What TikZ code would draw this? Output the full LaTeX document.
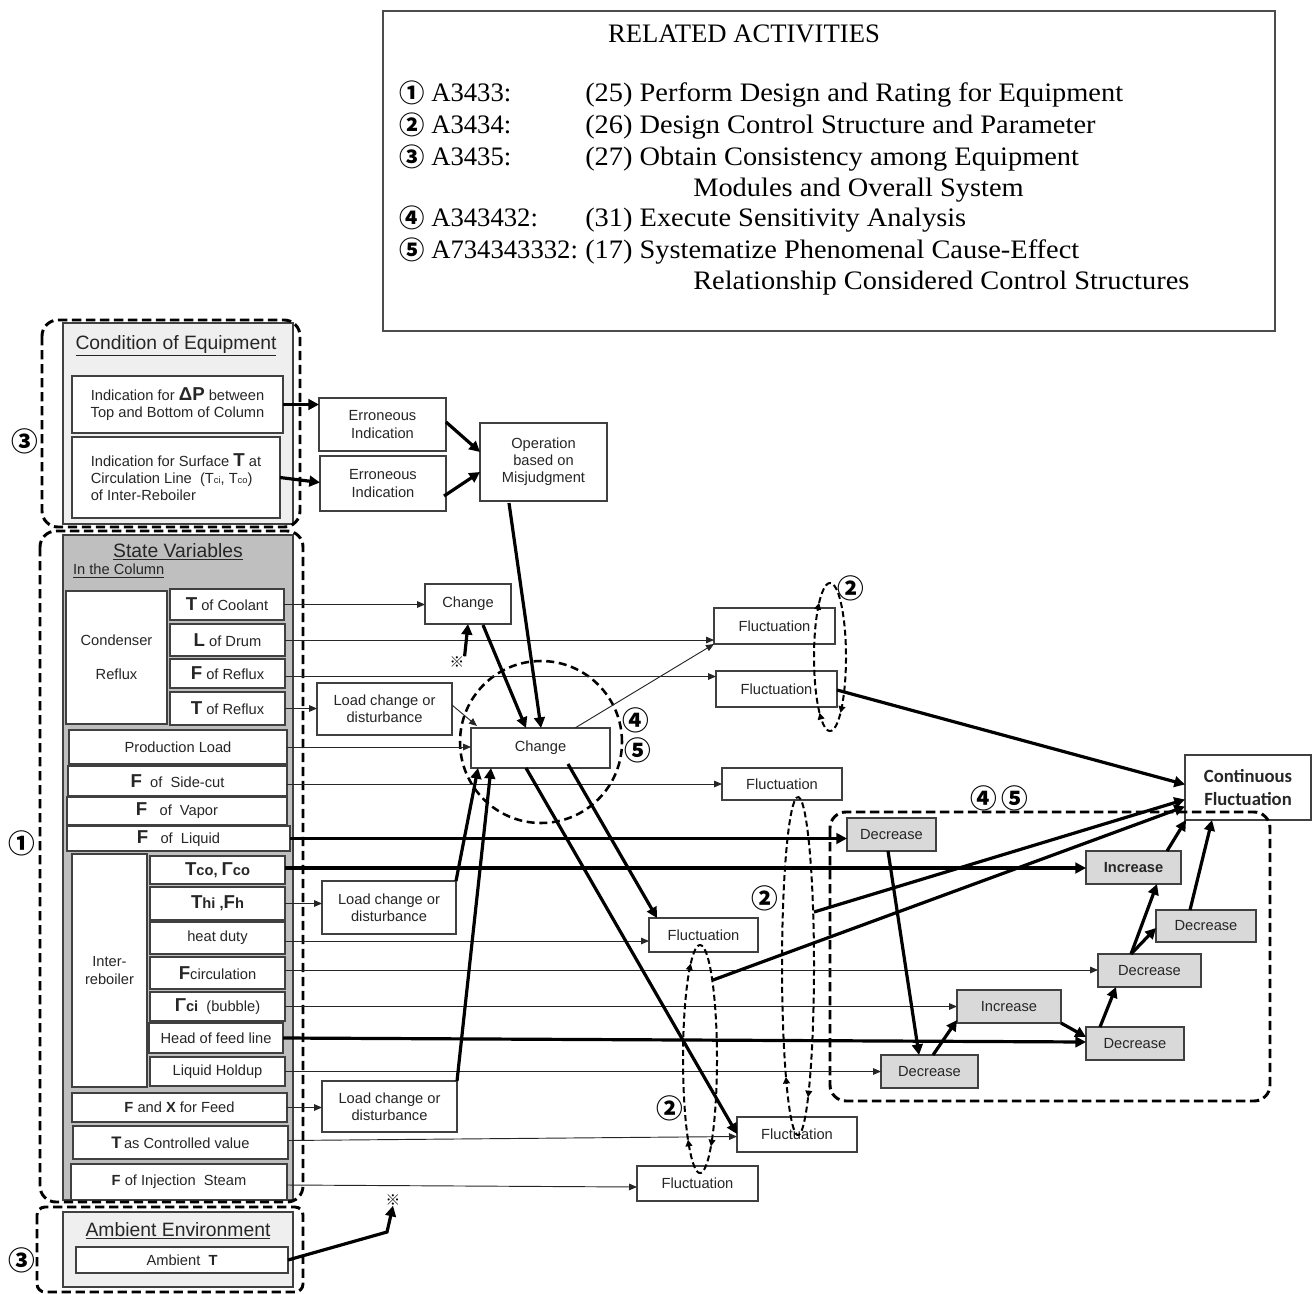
\documentclass[tikz,border=0pt]{standalone}
\usepackage{fontspec}
\setmainfont{Liberation Sans}
\newfontfamily\serifface{Liberation Serif}
\newfontfamily\serifwide[FakeStretch=1.065]{Liberation Serif}
\newfontfamily\cjkface{Noto Sans CJK JP}
\newfontfamily\calface{Carlito}
\usetikzlibrary{arrows.meta,calc}

\definecolor{panellight}{HTML}{EFEFEF}
\definecolor{panelgray}{HTML}{BFBFBF}
\definecolor{boxgray}{HTML}{D9D9D9}
\definecolor{edge}{HTML}{404040}

% rectangle node given by its corners (pixel grid)
\newcommand\rectnode[7]{%
  \node[#2, minimum width={(#5-#3)*0.75pt}, minimum height={(#6-#4)*0.75pt}]
    (#1) at ({(#3+#5)/2},{(#4+#6)/2}) {#7};}
% one dashed piece of an elliptic feedback loop
\newcommand\loopseg[6]{%
  \draw[loopline] plot[domain=#5:#6, samples=40, smooth, variable=\t]
    ({#1+#3*cos(\t)},{#2+#4*sin(\t)});}
\newcommand\Bg[1]{{\fontsize{14}{14}\selectfont\bfseries #1}}

\begin{document}
\begin{tikzpicture}[x=0.75pt,y=-0.75pt,
  txtbase/.style={font=\fontsize{11}{12.8}\selectfont, align=center, inner sep=1pt, outer sep=0pt, text=black!85},
  wbox/.style={txtbase, draw=edge, line width=0.9pt, fill=white},
  gbox/.style={txtbase, draw=edge, line width=0.9pt, fill=boxgray},
  headfont/.style={font=\fontsize{14.5}{16}\selectfont, inner sep=0pt, text=black!85},
  topfont/.style={font=\serifface\fontsize{20}{24}\selectfont, inner sep=0pt, anchor=base west},
  topdesc/.style={font=\serifwide\fontsize{20}{24}\selectfont, inner sep=0pt, anchor=base west},
  topnum/.style={font=\cjkface\bfseries\fontsize{19}{20}\selectfont, inner sep=0pt, anchor=west},
  numlabel/.style={font=\cjkface\bfseries\fontsize{20}{20}\selectfont, inner sep=0pt},
  refmark/.style={font=\cjkface\fontsize{11}{11}\selectfont, inner sep=0pt},
  grp/.style={draw=black, line width=2.2pt, dash pattern=on 7pt off 3.5pt, rounded corners=12pt},
  thn/.style={draw=black!85, line width=0.7pt, -{Triangle[length=6pt,width=5pt]}},
  thk/.style={draw=black, line width=2.4pt, -{Triangle[length=8pt,width=8pt]}},
  loopline/.style={draw=black, line width=1.5pt, dash pattern=on 4.5pt off 2.5pt, -{Triangle[length=5pt,width=5pt]}},
]
\useasboundingbox (0,0) rectangle (1312,1294);

% ---------- legend of related activities ----------
\rectnode{legend}{draw=black!70, line width=0.8pt}{383}{11}{1275}{331}{}
\node[font=\serifface\fontsize{20}{24}\selectfont, inner sep=0pt] (legtitle) at (744,34) {RELATED ACTIVITIES};
\node[topnum] (n1) at (399,93) {①};
\node[topfont] (k1) at (431,102) {A3433:};
\node[topdesc] (d1) at (585,102) {(25) Perform Design and Rating for Equipment};
\node[topnum] (n2) at (399,125) {②};
\node[topfont] (k2) at (431,134) {A3434:};
\node[topdesc] (d2) at (585,134) {(26) Design Control Structure and Parameter};
\node[topnum] (n3) at (399,157) {③};
\node[topfont] (k3) at (431,166) {A3435:};
\node[topdesc] (d3) at (585,166) {(27) Obtain Consistency among Equipment};
\node[topdesc] (d3b) at (693,197) {Modules and Overall System};
\node[topnum] (n4) at (399,218) {④};
\node[topfont] (k4) at (431,227) {A343432:};
\node[topdesc] (d4) at (585,227) {(31) Execute Sensitivity Analysis};
\node[topnum] (n5) at (399,250) {⑤};
\node[topfont] (k5) at (431,259) {A734343332:};
\node[topdesc] (d5) at (585,259) {(17) Systematize Phenomenal Cause-Effect};
\node[topdesc] (d5b) at (693,290) {Relationship Considered Control Structures};

% ---------- left column: panels ----------
\filldraw[fill=panellight, draw=edge, line width=1.2pt] (63,323) rectangle (293,524);
\filldraw[fill=panelgray, draw=edge, line width=1.4pt] (63,535) rectangle (293,1200);
\filldraw[fill=panellight, draw=edge, line width=1.2pt] (63,1212) rectangle (293,1287);

\node[headfont] (condtitle) at (176,346) {\underline{Condition of Equipment}};
\node[headfont] (sttitle) at (178,552) {\underline{State Variables}};
\node[txtbase, anchor=west, inner sep=0pt] (stsub) at (73,571) {\underline{In the Column}};
\node[headfont] (ambtitle) at (178,1231) {\underline{Ambient Environment}};

\rectnode{cond1}{wbox}{72}{376}{283}{433}{Indication for \Bg{ΔP} between\\Top and Bottom of Column}
\rectnode{cond2}{wbox, align=left}{72}{437}{280}{518}{Indication for Surface \Bg{T} at\\Circulation Line\ \ (T{\scriptsize ci}, T{\scriptsize co})\\of Inter-Reboiler}

\rectnode{condref}{wbox}{66}{591}{167}{724}{Condenser\\[13pt]Reflux}
\rectnode{tcool}{wbox}{170}{589}{284}{620}{\Bg{T} of Coolant}
\rectnode{ldrum}{wbox}{170}{624}{285}{656}{\Bg{L} of Drum}
\rectnode{frefl}{wbox}{170}{659}{285}{688}{\Bg{F} of Reflux}
\rectnode{trefl}{wbox}{170}{692}{285}{725}{\Bg{T} of Reflux}
\rectnode{prod}{wbox}{69}{730}{287}{764}{Production Load}
\rectnode{fside}{wbox}{68}{766}{287}{796}{\Bg{F}\ \ of\ \ Side-cut}
\rectnode{fvap}{wbox}{67}{797}{287}{825}{\Bg{F}\ \ \ of\ \ Vapor}
\rectnode{fliq}{wbox}{67}{826}{290}{851}{\Bg{F}\ \ \ of\ \ Liquid}
\rectnode{interb}{wbox}{72}{854}{147}{1087}{Inter-\\reboiler}
\rectnode{tco}{wbox}{150}{856}{285}{884}{\bfseries\Bg{T}co, \Bg{Γ}co}
\rectnode{thi}{wbox}{150}{887}{285}{920}{\bfseries\Bg{T}hi ,\Bg{F}h}
\rectnode{hduty}{wbox}{150}{922}{285}{954}{heat duty}
\rectnode{fcirc}{wbox}{150}{957}{285}{989}{\Bg{F}circulation}
\rectnode{gci}{wbox}{150}{992}{285}{1021}{\textbf{\Bg{Γ}ci}\ \ (bubble)}
\rectnode{hfeed}{wbox}{149}{1023}{283}{1053}{Head of feed line}
\rectnode{lhold}{wbox}{150}{1057}{285}{1086}{Liquid Holdup}
\rectnode{fxfeed}{wbox}{72}{1093}{287}{1122}{\textbf{F} and \textbf{X} for Feed}
\rectnode{tctrl}{wbox}{73}{1126}{288}{1159}{{\fontsize{12.5}{12.5}\selectfont\bfseries T}\,as Controlled value}
\rectnode{finj}{wbox}{71}{1164}{287}{1200}{\textbf{F} of Injection\ \ Steam}
\rectnode{ambT}{wbox}{76}{1247}{288}{1273}{Ambient\ \ \textbf{T}}

% group frames
\draw[grp] (42,320) rectangle (300,527);
\draw[grp] (40,531) rectangle (303,1202);
\draw[grp, rounded corners=6pt] (37,1207) rectangle (303,1292);
\node[numlabel] (g3a) at (25,441) {③};
\node[numlabel] (g1) at (22,843) {①};
\node[numlabel] (g3b) at (22,1260) {③};

% ---------- middle and right boxes ----------
\rectnode{err1}{wbox}{319}{398}{446}{451}{Erroneous\\Indication}
\rectnode{err2}{wbox}{320}{456}{446}{511}{Erroneous\\Indication}
\rectnode{op}{wbox}{480}{423}{607}{501}{Operation\\based on\\Misjudgment}
\rectnode{chg1}{wbox}{425}{584}{511}{624}{Change}
\rectnode{chg2}{wbox}{471}{728}{610}{768}{Change}
\rectnode{lc1}{wbox}{317}{683}{452}{735}{Load change or\\disturbance}
\rectnode{lc2}{wbox}{322}{881}{456}{934}{Load change or\\disturbance}
\rectnode{lc3}{wbox}{322}{1081}{457}{1132}{Load change or\\disturbance}
\rectnode{flA}{wbox}{714}{608}{835}{644}{Fluctuation}
\rectnode{flB}{wbox}{716}{671}{837}{707}{Fluctuation}
\rectnode{flC}{wbox}{722}{768}{842}{800}{Fluctuation}
\rectnode{flD}{wbox}{649}{918}{758}{952}{Fluctuation}
\rectnode{flE}{wbox}{737}{1117}{857}{1152}{Fluctuation}
\rectnode{flF}{wbox}{637}{1166}{758}{1201}{Fluctuation}
\rectnode{cont}{wbox, line width=1.9pt, font=\calface\bfseries\fontsize{14}{17.5}\selectfont}{1185}{755}{1311}{820}{Continuous\\Fluctuation}
\rectnode{decA}{gbox}{847}{818}{936}{851}{Decrease}
\rectnode{incA}{gbox, font=\bfseries\fontsize{11}{12.8}\selectfont}{1086}{851}{1181}{884}{Increase}
\rectnode{decB}{gbox}{1156}{910}{1256}{942}{Decrease}
\rectnode{decC}{gbox}{1098}{954}{1201}{987}{Decrease}
\rectnode{incB}{gbox}{957}{990}{1061}{1023}{Increase}
\rectnode{decD}{gbox}{1086}{1027}{1184}{1060}{Decrease}
\rectnode{decE}{gbox}{881}{1055}{978}{1088}{Decrease}

\draw[grp] (830,812) rectangle (1270,1101);
\node[numlabel] (g45) at (999,798) {④\,⑤};
\draw[black, line width=1.9pt, dash pattern=on 6pt off 3.5pt] (541,742) circle[radius=60.75pt];
\node[numlabel] (c4) at (636,720) {④};
\node[numlabel] (c5) at (638,750) {⑤};

\node[refmark] (ref1) at (457,662) {※};
\node[refmark] (ref2) at (393,1200) {※};
\coordinate (bend) at (387,1232);
\coordinate (s2) at (814,912);
\coordinate (s3) at (713,980);

% ---------- connectors from the state variables ----------
\draw[thk] (cond1.east) -- (cond1.east -| err1.west);
\draw[thk] (cond2.east) -- ($(err2.west)+(0,-1)$);
\draw[thn] (tcool.east) -- (tcool.east -| chg1.west);
\draw[thn] (ldrum.east) -- (ldrum.east -| flA.west);
\draw[thn] ($(frefl.east)+(0,3)$) -- ($(frefl.east -| flB.west)+(0,3)$);
\draw[thn] (trefl.east) -- (trefl.east -| lc1.west);
\draw[thn] (prod.east) -- (prod.east -| chg2.west);
\draw[thn] ($(fside.east)+(0,3)$) -- ($(fside.east -| flC.west)+(0,3)$);
\draw[thk] (fliq.east) -- (fliq.east -| decA.west);
\draw[thk] ($(tco.east)+(0,-2)$) -- ($(tco.east -| incA.west)+(0,-2)$);
\draw[thn] (thi.east) -- (thi.east -| lc2.west);
\draw[thn] ($(hduty.east)+(0,3)$) -- ($(hduty.east -| flD.west)+(0,3)$);
\draw[thn] ($(fcirc.east)+(0,-3)$) -- ($(fcirc.east -| decC.west)+(0,-3)$);
\draw[thn] (gci.east) -- (gci.east -| incB.west);
\draw[thk] (hfeed.east) -- ($(hfeed.east -| decD.west)+(0,4)$);
\draw[thn] (lhold.east) -- (lhold.east -| decE.west);
\draw[thn] (fxfeed.east) -- (fxfeed.east -| lc3.west);
\draw[thn] ($(tctrl.east)+(0,-2)$) -- ($(tctrl.east -| flE.west)+(0,-6)$);
\draw[thn] ($(finj.east)+(0,3)$) -- ($(finj.east -| flF.west)+(0,5)$);
\draw[thk] (ambT.east) -- (bend) -- (ref2.south);

% ---------- causal chain ----------
\draw[thk] ($(err1.north east)+(0,24)$) -- ($(op.north west)+(0,29)$);
\draw[thk] ($(err2.south east)+(-2,-15)$) -- ($(op.north west)+(0,49)$);
\draw[thk] ($(op.south west)+(29,2)$) -- ($(chg2.north west)+(70,0)$);
\draw[thk] ($(chg1.south west)+(58,1)$) -- ($(chg2.north west)+(55,0)$);
\draw[thk] (ref1.north east) -- ($(chg1.south west)+(43,0)$);
\draw[thn] ($(lc1.north east)+(0,22)$) -- ($(chg2.north west)+(6,-2)$);
\draw[thn] ($(chg2.north west)+(104,0)$) -- (flA.south west);
\draw[thk] (lc2.north east) -- ($(chg2.south west)+(7,0)$);
\draw[thk] (lc3.north east) -- ($(chg2.south west)+(20,0)$);
\draw[thk] ($(chg2.south west)+(97,-4)$) -- ($(flD.north west)+(8,0)$);
\draw[thk] ($(chg2.south west)+(55,0)$) -- ($(flE.north west)+(0,17)$);

\draw[thk] ($(flB.east)+(0,1)$) -- ($(cont.west)+(0,-3)$);
\draw[thk] (s2) -- ($(cont.west)+(0,12)$);
\draw[thk] (s3) -- ($(cont.west)+(0,19)$);

\draw[thk] ($(decA.south west)+(41,0)$) -- ($(decE.north west)+(38,0)$);
\draw[thk] ($(decE.north west)+(52,0)$) -- ($(incB.south west)+(0,-3)$);
\draw[thk] (incB.south east) -- ($(decD.north west)+(0,10)$);
\draw[thk] ($(decD.north west)+(14,0)$) -- ($(decC.south west)+(18,0)$);
\draw[thk] ($(decC.north west)+(33,0)$) -- ($(incA.south west)+(71,0)$);
\draw[thk] ($(decC.north west)+(33,0)$) -- ($(decB.west)+(0,2)$);
\draw[thk] ($(incA.north east)+(-14,0)$) -- ($(cont.south west)+(1,0)$);
\draw[thk] ($(decB.north west)+(34,0)$) -- ($(cont.south west)+(27,0)$);

% ---------- control feedback loops ----------
\loopseg{830}{657}{16}{74}{50}{131}
\loopseg{830}{657}{16}{74}{131}{227}
\loopseg{830}{657}{16}{74}{227}{409}
\loopseg{798}{966}{16}{169}{51}{139}
\loopseg{798}{966}{16}{169}{139}{411}
\loopseg{700}{1059}{17}{114}{50}{135}
\loopseg{700}{1059}{17}{114}{135}{237}
\loopseg{700}{1059}{17}{114}{237}{410}
\node[numlabel] (l2a) at (851,588) {②};
\node[numlabel] (l2b) at (765,898) {②};
\node[numlabel] (l2c) at (670,1108) {②};
\end{tikzpicture}
\end{document}
